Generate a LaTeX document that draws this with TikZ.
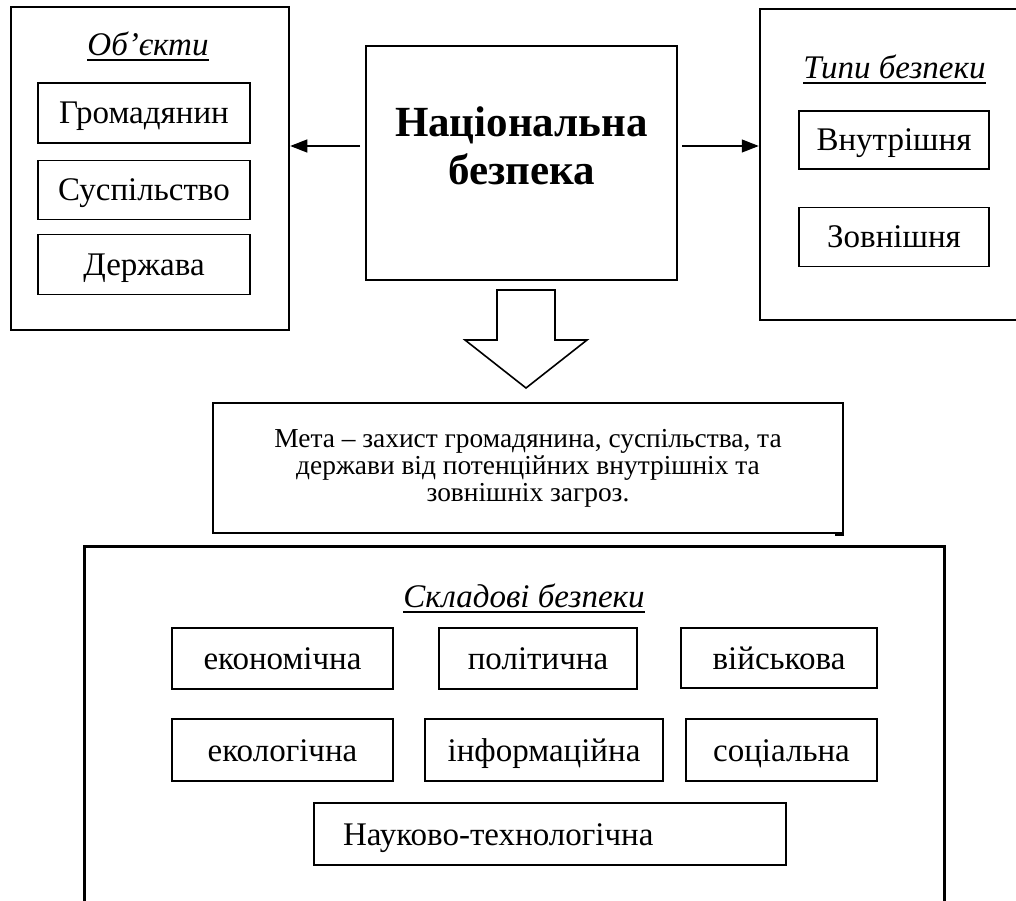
\documentclass[tikz,border=0pt]{standalone}
\usepackage{fontspec}
\setmainfont{Liberation Serif}
\usetikzlibrary{arrows.meta,positioning,calc}
\newcommand{\undertitle}[1]{\setbox0\hbox{#1}\leavevmode\rlap{\vrule height -3.5pt depth 5.5pt width \wd0}\box0}
\tikzset{
	frame/.style={draw, line width=2.5pt, inner sep=0pt},
	part/.style 2 args={draw, line width=1.2pt, inner sep=0pt,
		minimum width=#1, minimum height=#2,
		font=\fontsize{33}{38}\selectfont, text height=22pt, text depth=0pt},
	heading/.style={font=\fontsize{33}{38}\selectfont\itshape, inner sep=0pt, anchor=base},
	link/.style={line width=1.3pt, -{Triangle[length=17pt,width=13pt]}},
	bigarrow/.style={draw, line width=1.6pt, line join=miter, fill=white}
}

\begin{document}
\begin{tikzpicture}[x=1pt, y=-1pt]
	\useasboundingbox (0,0) rectangle (1016,901);
	\node[frame, minimum width=278pt, minimum height=323pt] (objects) at (150,168.5) {};
	\node[heading] (objhead) at (148,56) {\undertitle{Об’єкти}};
	\node[part={212pt}{60pt}] (citizen) at (144,113) {Громадянин};
	\node[part={212pt}{59pt}, below=16pt of citizen] (society) {Суспільство};
	\node[part={212pt}{60pt}, below=14pt of society] (state) {Держава};

	\node[frame, line width=2pt, minimum width=311pt, minimum height=234pt] (security) at (521.5,163) {};
	\node[font=\fontsize{43}{48}\selectfont\bfseries, align=center, inner sep=0pt] (sectitle) at (521.5,146) {Національна\\безпека};

	\node[frame, minimum width=300pt, minimum height=311pt] (types) at (910,164.5) {};
	\node[heading] (typeshead) at (894.5,79) {\undertitle{Типи безпеки}};
	\node[part={190pt}{58pt}] (internal) at (894,140) {Внутрішня};
	\node[part={190pt}{59pt}, below=37pt of internal] (external) {Зовнішня};

	\coordinate (lstart) at ($(security.west)+(-5,-17)$);
	\coordinate (rstart) at ($(security.east)+(4,-17)$);
	\draw[link] (lstart) -- (lstart -| objects.east);
	\draw[link] (rstart) -- (rstart -| types.west);

	\draw[bigarrow] (497,290) -- (555,290) -- (555,340) -- (587,340) -- (526,388) -- (465,340) -- (497,340) -- cycle;

	\node[frame, line width=2pt, minimum width=630pt, minimum height=130pt, align=center,
		font=\fontsize{27.4}{27}\selectfont] (goal) at (528,468)
		{Мета – захист громадянина, суспільства, та\\держави від потенційних внутрішніх та\\зовнішніх загроз.};
	\draw[line width=3pt] (goal.south east) -- ++(-9,0);

	\node[frame, line width=3pt, minimum width=860pt, minimum height=454pt] (parts) at (514,773) {};
	\node[heading] (partshead) at (524,607) {\undertitle{Складові безпеки}};
	\node[part={221pt}{61pt}] (economic) at (282.5,658.5) {економічна};
	\node[part={198pt}{61pt}] (political) at (538,658.5) {політична};
	\node[part={196pt}{60pt}] (military) at (779,658) {військова};
	\node[part={221pt}{62pt}] (ecological) at (282.5,750) {екологічна};
	\node[part={238pt}{62pt}] (information) at (544,750) {інформаційна};
	\node[part={191pt}{62pt}] (social) at (781.5,750) {соціальна};
	\node[part={472pt}{62pt}, text width=414pt, align=left] (science) at (550,834) {Науково-технологічна};
\end{tikzpicture}
\end{document}
